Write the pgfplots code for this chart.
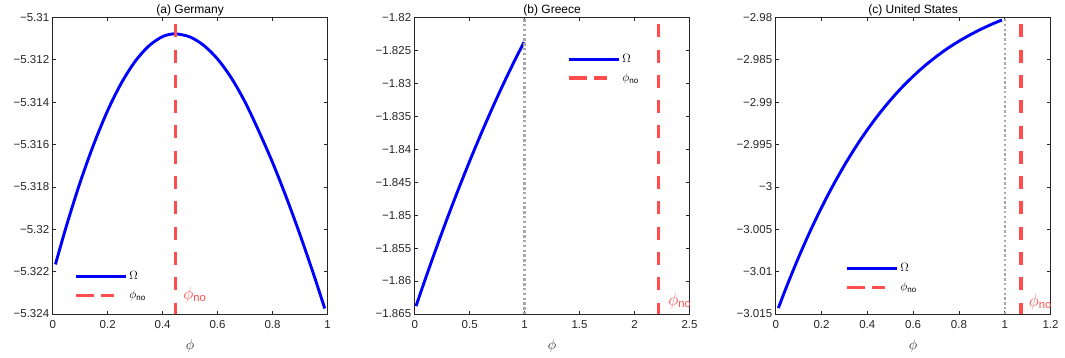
\documentclass[border=0pt]{standalone}
\usepackage{pgfplots}
\pgfplotsset{compat=1.18}
\usepackage{fontspec}
\setmainfont{Liberation Sans}
\definecolor{myred}{rgb}{1,0.3,0.3}
\definecolor{mygray}{rgb}{0.65,0.65,0.65}
\definecolor{axgray}{rgb}{0.15,0.15,0.15}
\definecolor{myblue}{rgb}{0,0,1}

\tikzset{rlabel/.style={anchor=west, text=myred, font=\fontsize{16}{18}\selectfont, inner sep=0pt}}
\pgfplotsset{
 myaxis/.style={
  width=274.8pt, height=296.7pt, scale only axis,
  anchor=south west,
  axis line style={axgray, line width=0.6pt},
  tick style={axgray, line width=0.6pt},
  major tick length=3.3pt,
  tick align=inside,
  tick pos=both,
  ticklabel style={font=\fontsize{11.5}{13}\selectfont, text=axgray},
  xticklabel style={yshift=-3pt},
  scaled ticks=false,
  title style={font=\fontsize{12}{14}\selectfont, text=black, yshift=-8pt},
  xlabel style={font=\fontsize{15}{17}\selectfont, text=axgray, yshift=-4pt},
  legend style={draw=none, fill=none, font=\fontsize{12}{14}\selectfont, inner sep=0pt, row sep=5pt, cells={anchor=west}},
  legend image code/.code={\draw[##1] (0pt,0pt) -- (50pt,0pt);},
  every axis legend/.append style={/tikz/every even column/.style={column sep=3pt}},
 },
 omega/.style={myblue, line width=2.9pt, smooth},
 phino/.style={myred, line width=3.3pt, dash pattern=on 13pt off 12.3pt,
   legend image post style={dash pattern=on 18pt off 7.5pt on 13pt off 20pt}},
 dotline/.style={mygray, line width=2.4pt, dash pattern=on 2.4pt off 2.4pt, forget plot},
}

\begin{document}
\begin{tikzpicture}
\path[use as bounding box] (0,0) rectangle (1065pt,358pt);

% (a) Germany
\begin{axis}[myaxis, at={(52.7pt,44pt)},
  title={(a) Germany}, xlabel={$\phi$},
  xmin=0, xmax=1, ymin=-5.324, ymax=-5.31,
  xtick={0,0.2,0.4,0.6,0.8,1},
  xticklabels={0,0.2,0.4,0.6,0.8,1},
  ytick={-5.324,-5.322,-5.32,-5.318,-5.316,-5.314,-5.312,-5.31},
  yticklabels={−5.324,−5.322,−5.32,−5.318,−5.316,−5.314,−5.312,−5.31},
  legend style={at={(0.077,0.15)}, anchor=north west}]
\addplot[omega] coordinates {
(0.01,-5.32166) (0.05,-5.31984) (0.10,-5.31778) (0.15,-5.31597)
(0.20,-5.31440) (0.25,-5.31310) (0.30,-5.31208) (0.35,-5.31135)
(0.40,-5.31091) (0.445,-5.31078) (0.50,-5.31093) (0.55,-5.31133)
(0.60,-5.31197) (0.65,-5.31286) (0.70,-5.31400) (0.75,-5.31537)
(0.80,-5.31685) (0.85,-5.31849) (0.90,-5.32026) (0.95,-5.32215)
(0.99,-5.32374)};
\addlegendentry{$\Omega$}
\addplot[phino] coordinates {(0.447,-5.31033) (0.447,-5.324)};
\addlegendentry{$\phi$\textsubscript{no}}
\node[rlabel] at (axis cs:0.475,-5.3231) {$\phi$\textsubscript{no}};
\end{axis}

% (b) Greece
\begin{axis}[myaxis, at={(414.7pt,44pt)},
  title={(b) Greece}, xlabel={$\phi$},
  xmin=0, xmax=2.5, ymin=-1.865, ymax=-1.82,
  xtick={0,0.5,1,1.5,2,2.5},
  xticklabels={0,0.5,1,1.5,2,2.5},
  ytick={-1.865,-1.86,-1.855,-1.85,-1.845,-1.84,-1.835,-1.83,-1.825,-1.82},
  yticklabels={−1.865,−1.86,−1.855,−1.85,−1.845,−1.84,−1.835,−1.83,−1.825,−1.82},
  legend style={at={(0.554,0.882)}, anchor=north west}]
\addplot[omega] coordinates {
(0.012,-1.86380) (0.1,-1.85953) (0.2,-1.85484) (0.3,-1.85032)
(0.4,-1.84598) (0.5,-1.84181) (0.6,-1.83782) (0.7,-1.83400)
(0.8,-1.83035) (0.9,-1.82688) (0.994,-1.82378)};
\addlegendentry{$\Omega$}
\addplot[phino] coordinates {(2.218,-1.82106) (2.218,-1.865)};
\addlegendentry{$\phi$\textsubscript{no}}
\addplot[dotline] coordinates {(1,-1.8203) (1,-1.865)};
\node[rlabel] at (axis cs:2.305,-1.8630) {$\phi$\textsubscript{no}};
\end{axis}

% (c) United States
\begin{axis}[myaxis, at={(775.7pt,44pt)},
  title={(c) United States}, xlabel={$\phi$},
  xmin=0, xmax=1.2, ymin=-3.015, ymax=-2.98,
  xtick={0,0.2,0.4,0.6,0.8,1,1.2},
  xticklabels={0,0.2,0.4,0.6,0.8,1,1.2},
  ytick={-3.015,-3.01,-3.005,-3,-2.995,-2.99,-2.985,-2.98},
  yticklabels={−3.015,−3.01,−3.005,−3,−2.995,−2.99,−2.985,−2.98},
  legend style={at={(0.252,0.177)}, anchor=north west}]
\addplot[omega] coordinates {
(0.0115,-3.01430) (0.05,-3.01160) (0.10,-3.00831) (0.15,-3.00526)
(0.20,-3.00244) (0.25,-2.99985) (0.30,-2.99746) (0.35,-2.99527)
(0.40,-2.99327) (0.45,-2.99145) (0.50,-2.98980) (0.55,-2.98830)
(0.60,-2.98696) (0.65,-2.98574) (0.70,-2.98466) (0.75,-2.98368)
(0.80,-2.98282) (0.85,-2.98205) (0.90,-2.98136) (0.95,-2.98074)
(0.988,-2.98032)};
\addlegendentry{$\Omega$}
\addplot[phino] coordinates {(1.0705,-2.98083) (1.0705,-3.015)};
\addlegendentry{$\phi$\textsubscript{no}}
\addplot[dotline] coordinates {(1,-2.9802) (1,-3.015)};
\node[rlabel] at (axis cs:1.105,-3.01357) {$\phi$\textsubscript{no}};
\end{axis}
\end{tikzpicture}
\end{document}
